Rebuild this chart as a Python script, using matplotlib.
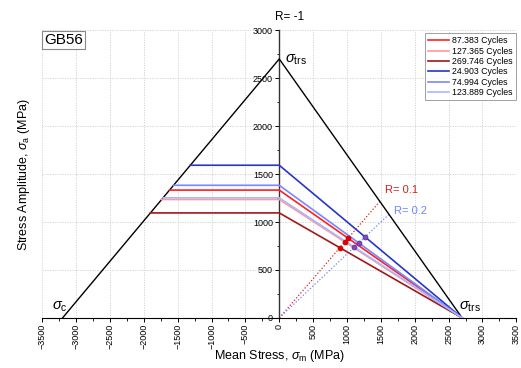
import numpy as np
import matplotlib
matplotlib.use("Agg")
import matplotlib.pyplot as plt
from matplotlib.ticker import MultipleLocator

plt.rcParams['font.family'] = ['Liberation Sans', 'DejaVu Sans']
plt.rcParams['mathtext.fontset'] = 'custom'
plt.rcParams['mathtext.rm'] = 'Liberation Sans'
plt.rcParams['mathtext.it'] = 'Liberation Sans:italic'

# ---- data ----
sigma_c = -3200.0      # compressive strength (MPa)
sigma_trs = 2700.0     # transverse rupture strength (MPa)
series_labels = ["87.383 Cycles", "127.365 Cycles", "269.746 Cycles",
                 "24.903 Cycles", "74.994 Cycles", "123.889 Cycles"]
series_amp = [1333, 1235, 1095, 1592, 1383, 1252]   # stress amplitude at R=-1
series_colors = ["#ff2020", "#ff9a9a", "#a01818", "#2636c8", "#7888ff", "#aab6ff"]
series_ratio = [0.1, 0.1, 0.1, 0.2, 0.2, 0.2]       # R line each series is marked on
r_values = [0.1, 0.2]
r_colors = ["#e02020", "#6a86ff"]
marker_colors = {0.1: ("#e00000", "#c00000"), 0.2: ("#a040a0", "#3040c0")}
xticks = list(range(-3500, 3501, 500))
yticks = list(range(0, 3001, 500))

fig = plt.figure(figsize=(5.21, 3.68), dpi=100)
ax = fig.add_axes([0.081, 0.136, 0.910, 0.782])
ax.set_xlim(-3500, 3500)
ax.set_ylim(0, 3000)

# grid
ax.set_xticks(xticks)
ax.set_yticks(yticks)
ax.grid(True, which='major', color='#cfcfcf', linestyle=(0, (1.5, 1.5)), linewidth=0.6)
ax.set_axisbelow(True)

# envelope
ax.plot([sigma_c, 0, sigma_trs], [0, sigma_trs, 0], color='black', lw=1.0, zorder=3)

# R lines
for r, c in zip(r_values, r_colors):
    k = (1 - r) / (1 + r)
    xm = sigma_trs / (1 + k)
    ax.plot([0, xm], [0, k * xm], color=c, lw=0.9, linestyle=(0, (1, 1.6)), zorder=2)

# series
handles = []
for lab, a, col, r in zip(series_labels, series_amp, series_colors, series_ratio):
    x0 = sigma_c * (1 - a / sigma_trs)
    h, = ax.plot([x0, 0, sigma_trs], [a, a, 0], color=col, lw=1.2, zorder=4, label=lab)
    handles.append(h)
    k = (1 - r) / (1 + r)
    xm = a / (k + a / sigma_trs)
    fc, ec = marker_colors[r]
    ax.plot([xm], [k * xm], marker='o', ms=3.5, mfc=fc, mec=ec, mew=0.6, zorder=6)

# spines
ax.spines['left'].set_position(('data', 0))
ax.spines['right'].set_visible(False)
ax.spines['top'].set_visible(False)
ax.spines['left'].set_color('#333333')
ax.spines['left'].set_linewidth(1.0)
ax.spines['bottom'].set_linewidth(0.8)

ax.xaxis.set_minor_locator(MultipleLocator(250))
ax.yaxis.set_minor_locator(MultipleLocator(250))
ax.tick_params(axis='x', which='major', labelsize=6.5, labelrotation=90, length=3, width=0.7, pad=1.5)
ax.tick_params(axis='y', which='major', labelsize=6.5, length=3, width=0.7, pad=1.5)
ax.tick_params(which='minor', length=1.8, width=0.6)

ax.set_xlabel(r"Mean Stress, $\sigma_{\rm m}$ (MPa)", fontsize=9)
ax.set_ylabel(r"Stress Amplitude, $\sigma_{\rm a}$ (MPa)", fontsize=9)
ax.xaxis.set_label_coords(0.5, -0.105)
ax.yaxis.set_label_coords(-0.022, 0.5)

# annotations
ax.text(150, 3080, "R= -1", fontsize=8.5, ha='center', va='bottom')
ax.text(80, 2620, r"$\sigma_{\rm trs}$", fontsize=10.5, ha='left', va='bottom')
ax.text(2650, 40, r"$\sigma_{\rm trs}$", fontsize=10.5, ha='left', va='bottom')
ax.text(-3360, 40, r"$\sigma_{\rm c}$", fontsize=10.5, ha='left', va='bottom')
ax.text(1560, 1330, "R= 0.1", fontsize=8, color='#d02020', ha='left', va='center')
ax.text(1700, 1115, "R= 0.2", fontsize=8, color='#6a86ff', ha='left', va='center')

ax.text(0.004, 0.99, "GB56", transform=ax.transAxes, fontsize=11, ha='left', va='top',
        bbox=dict(boxstyle='square,pad=0.15', fc='white', ec='#888888', lw=0.8), zorder=10)

leg = ax.legend(handles=handles, loc='upper right', bbox_to_anchor=(1.003, 0.995),
                fontsize=6.3, frameon=True, fancybox=False, edgecolor='#888888',
                handlelength=2.4, handletextpad=0.4, borderpad=0.35, labelspacing=0.15,
                borderaxespad=0.2)
leg.get_frame().set_linewidth(0.7)

fig.savefig("out.png", dpi=100)
